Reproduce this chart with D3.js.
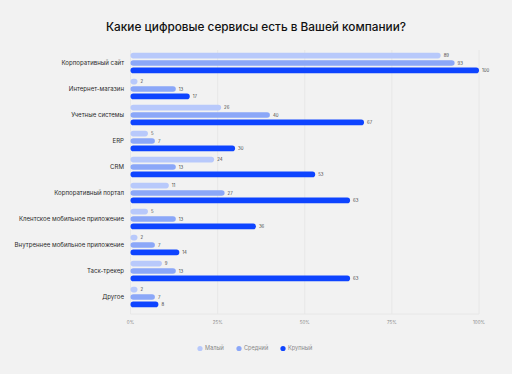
<!DOCTYPE html>
<html>
<head>
<meta charset="utf-8">
<script src="https://cdn.jsdelivr.net/npm/d3@7"></script>
<style>
  html, body { margin: 0; padding: 0; background: #f2f2f2; }
  svg { display: block; }
</style>
</head>
<body>
<div id="chart"></div>
<script>
const width = 512, height = 374;

const categories = [
  "Корпоративный сайт", "Интернет-магазин", "Учетные системы", "ERP", "CRM",
  "Корпоративный портал", "Клентское мобильное приложение",
  "Внутреннее мобильное приложение", "Таск-трекер", "Другое"
];
const seriesNames = ["Малый", "Средний", "Крупный"];
const small  = [89, 2, 26, 5, 24, 11, 5, 2, 9, 2];
const medium = [93, 13, 40, 7, 13, 27, 13, 7, 13, 7];
const large  = [100, 17, 67, 30, 53, 63, 36, 14, 63, 8];
const ticks = [0, 25, 50, 75, 100];

const colors = ["#b8c9fb", "#8ba7f8", "#0e44ff"];
const series = [small, medium, large];

const svg = d3.select("#chart").append("svg")
  .attr("width", width).attr("height", height);

svg.append("rect").attr("width", width).attr("height", height).attr("fill", "#f2f2f2");

svg.append("text")
  .attr("x", 256).attr("y", 30.5)
  .attr("text-anchor", "middle")
  .attr("font-family", "Inter, 'Noto Sans', sans-serif")
  .attr("font-size", 11.8)
  .attr("font-weight", 500)
  .attr("fill", "#111")
  .text("Какие цифровые сервисы есть в Вашей компании?");

const x = d3.scaleLinear().domain([0, 100]).range([130.5, 479]);
const y = d3.scaleBand().domain(categories).range([50, 310]);

// grid
const grid = svg.append("g");
grid.selectAll("line.v").data(ticks).enter().append("line")
  .attr("x1", d => x(d)).attr("x2", d => x(d))
  .attr("y1", 50).attr("y2", 314)
  .attr("stroke", "#e4e4e4").attr("stroke-width", 0.8);
grid.append("line")
  .attr("x1", x(0)).attr("x2", x(100)).attr("y1", 314).attr("y2", 314)
  .attr("stroke", "#e4e4e4").attr("stroke-width", 0.8);

svg.append("g").selectAll("text").data(ticks).enter().append("text")
  .attr("x", d => x(d)).attr("y", 324)
  .attr("text-anchor", "middle")
  .attr("font-family", "Inter, sans-serif").attr("font-size", 4.5)
  .attr("fill", "#888")
  .text(d => d + "%");

// category labels
svg.append("g").selectAll("text").data(categories).enter().append("text")
  .attr("x", 124)
  .attr("y", d => y(d) + y.bandwidth() / 2)
  .attr("dy", "0.35em")
  .attr("text-anchor", "end")
  .attr("font-family", "Inter, sans-serif").attr("font-size", 6.1)
  .attr("fill", "#2a2a2a")
  .text(d => d);

// bars
series.forEach((vals, s) => {
  const g = svg.append("g");
  const barH = 5.6;
  g.selectAll("rect").data(vals).enter().append("rect")
    .attr("x", x(0))
    .attr("y", (d, i) => y(categories[i]) + y.bandwidth() / 2 + (s - 1) * 7.4 - barH / 2)
    .attr("width", d => Math.max(x(d) - x(0), barH))
    .attr("height", barH)
    .attr("rx", barH / 2)
    .attr("fill", colors[s]);
  g.selectAll("text").data(vals).enter().append("text")
    .attr("x", d => Math.max(x(d), x(0) + barH) + 3)
    .attr("y", (d, i) => y(categories[i]) + y.bandwidth() / 2 + (s - 1) * 7.4)
    .attr("dy", "0.35em")
    .attr("font-family", "Inter, sans-serif").attr("font-size", 4.3)
    .attr("fill", "#444")
    .text(d => d);
});

// legend
const legendX = [200, 239, 283];
const legend = svg.append("g");
seriesNames.forEach((n, i) => {
  legend.append("circle").attr("cx", legendX[i]).attr("cy", 348.5).attr("r", 2.6).attr("fill", colors[i]);
  legend.append("text").attr("x", legendX[i] + 5).attr("y", 348.5).attr("dy", "0.35em")
    .attr("font-family", "Inter, sans-serif").attr("font-size", 5.6)
    .attr("fill", "#888").text(n);
});
</script>
</body>
</html>
